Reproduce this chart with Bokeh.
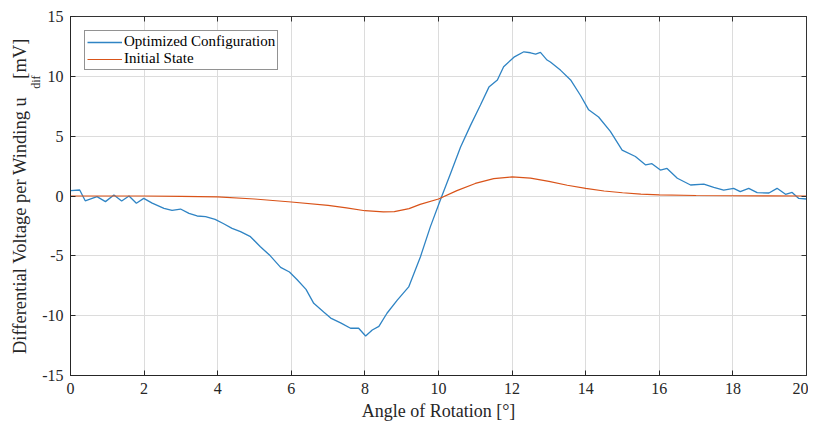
from bokeh.plotting import figure
from bokeh.models import LinearAxis, Range1d, Legend, LegendItem, FixedTicker, Title
from bokeh.embed import file_html
from bokeh.resources import INLINE

# Optimized configuration (blue)
opt_x = [0.0, 0.25, 0.4, 0.72, 0.95, 1.18, 1.39, 1.59, 1.79, 1.99, 2.22, 2.54, 2.76, 2.99,
         3.22, 3.44, 3.67, 3.93, 4.15, 4.39, 4.62, 4.89, 5.16, 5.43, 5.71, 5.95, 6.16, 6.4,
         6.61, 6.88, 7.07, 7.34, 7.61, 7.83, 8.02, 8.2, 8.38, 8.6, 8.88, 9.19, 9.51, 9.78,
         10.05, 10.33, 10.6, 10.87, 11.14, 11.37, 11.6, 11.77, 12.05, 12.32, 12.5, 12.64,
         12.77, 12.95, 13.04, 13.32, 13.59, 13.86, 14.08, 14.35, 14.67, 14.99, 15.35, 15.63,
         15.8, 16.03, 16.21, 16.49, 16.85, 17.21, 17.48, 17.75, 18.02, 18.2, 18.43, 18.66,
         18.98, 19.2, 19.43, 19.61, 19.79, 20.0]
opt_y = [0.45, 0.5, -0.4, -0.05, -0.47, 0.08, -0.42, 0.0, -0.6, -0.2, -0.6, -1.03, -1.2, -1.09,
         -1.45, -1.67, -1.73, -1.95, -2.3, -2.7, -2.98, -3.4, -4.24, -5.0, -5.96, -6.35, -7.0, -7.8,
         -8.97, -9.7, -10.2, -10.6, -11.05, -11.05, -11.7, -11.2, -10.9, -9.8, -8.7, -7.6, -5.07, -2.56,
         -0.33, 1.9, 4.1, 5.9, 7.6, 9.1, 9.7, 10.8, 11.6, 12.05, 11.97, 11.86,
         12.0, 11.36, 11.2, 10.5, 9.7, 8.4, 7.2, 6.6, 5.4, 3.84, 3.3, 2.6,
         2.7, 2.17, 2.3, 1.48, 0.92, 1.0, 0.72, 0.5, 0.64, 0.36, 0.64, 0.28,
         0.25, 0.64, 0.14, 0.3, -0.2, -0.25]

# Initial state (orange)
init_x = [0, 1, 2, 3, 4, 5, 6, 7, 7.5, 8, 8.5, 8.8, 9.2, 9.5, 10, 10.5, 11, 11.5, 12, 12.5,
          13, 13.5, 14, 14.5, 15, 15.5, 16, 17, 18, 19, 20]
init_y = [0, 0, 0, -0.03, -0.08, -0.25, -0.5, -0.78, -1.0, -1.23, -1.32, -1.3, -1.05, -0.7,
          -0.25, 0.45, 1.05, 1.45, 1.6, 1.5, 1.22, 0.9, 0.64, 0.42, 0.27, 0.16, 0.09, 0.04,
          0.02, 0.01, 0.0]

x_ticks = [0, 2, 4, 6, 8, 10, 12, 14, 16, 18, 20]
y_ticks = [-15, -10, -5, 0, 5, 10, 15]
y_tick_labels = ["-15", "-10", "-5", "0", "5", "10", "15"]

x_label = "Angle of Rotation [°]"
y_label_main = "Differential Voltage per Winding u\u00a0\u00a0\u00a0\u00a0[mV]"
y_label_sub = "dif"

FONT = "Liberation Serif"
BLUE = "#2f84c4"
ORANGE = "#d95319"
TXT = "#262626"

p = figure(frame_width=736, frame_height=359, output_backend="svg", toolbar_location=None,
           x_range=Range1d(0, 20), y_range=Range1d(-15, 15),
           min_border_left=70, min_border_top=16, min_border_right=2, min_border_bottom=0)
p.background_fill_color = "white"
p.border_fill_color = "white"
p.outline_line_color = "#333333"
p.outline_line_width = 1

r1 = p.line(opt_x, opt_y, line_color=BLUE, line_width=1.3)
r2 = p.line(init_x, init_y, line_color=ORANGE, line_width=1.2)

for ax in [p.xaxis[0], p.yaxis[0]]:
    ax.major_label_text_font = FONT
    ax.major_label_text_font_size = "16px"
    ax.major_label_text_color = TXT
    ax.axis_line_color = TXT
    ax.major_tick_line_color = TXT
    ax.major_tick_in = 5
    ax.major_tick_out = 0
    ax.minor_tick_line_color = None
    ax.axis_label_text_font = FONT
    ax.axis_label_text_font_style = "normal"
    ax.axis_label_text_font_size = "18px"
    ax.axis_label_text_color = TXT

p.xaxis[0].ticker = FixedTicker(ticks=x_ticks)
p.yaxis[0].ticker = FixedTicker(ticks=y_ticks)
p.yaxis[0].major_label_overrides = {t: s for t, s in zip(y_ticks, y_tick_labels)}
p.xaxis[0].axis_label = x_label
p.xaxis[0].axis_label_standoff = 4
p.xaxis[0].major_label_standoff = 7
p.yaxis[0].major_label_standoff = 7

top = LinearAxis(ticker=FixedTicker(ticks=x_ticks), major_label_text_font_size="0px",
                 major_label_standoff=0, major_tick_in=5, major_tick_out=0,
                 minor_tick_line_color=None, axis_line_color="#333333", major_tick_line_color="#333333")
right = LinearAxis(ticker=FixedTicker(ticks=y_ticks), major_label_text_font_size="0px",
                   major_label_standoff=0, major_tick_in=5, major_tick_out=0,
                   minor_tick_line_color=None, axis_line_color="#333333", major_tick_line_color="#333333")
p.add_layout(top, "above")
p.add_layout(right, "right")

p.grid.grid_line_color = "#dcdcdc"
p.grid.grid_line_width = 1
p.xgrid.ticker = FixedTicker(ticks=x_ticks)
p.ygrid.ticker = FixedTicker(ticks=y_ticks)

legend = Legend(items=[LegendItem(label="Optimized Configuration", renderers=[r1]),
                       LegendItem(label="Initial State", renderers=[r2])],
                location="top_left", margin=14, padding=2, spacing=0,
                label_text_font=FONT, label_text_font_size="15px", label_text_color="black",
                glyph_width=35, glyph_height=16, label_height=16, label_standoff=2,
                border_line_color="#262626", border_line_width=1,
                background_fill_color="white", background_fill_alpha=1)
p.add_layout(legend)

# Y-axis label built from two side titles (subscript column next to the axis)
t_sub = Title(text=y_label_sub, align="right", offset=59, standoff=-6, text_line_height=0.6,
              text_font=FONT, text_font_size="12px", text_font_style="normal", text_color=TXT)
t_main = Title(text=y_label_main, align="center", offset=0, standoff=0,
               text_font=FONT, text_font_size="18.5px", text_font_style="normal", text_color=TXT)
p.add_layout(t_sub, "left")
p.add_layout(t_main, "left")

open("out.html", "w").write(file_html(p, INLINE))
